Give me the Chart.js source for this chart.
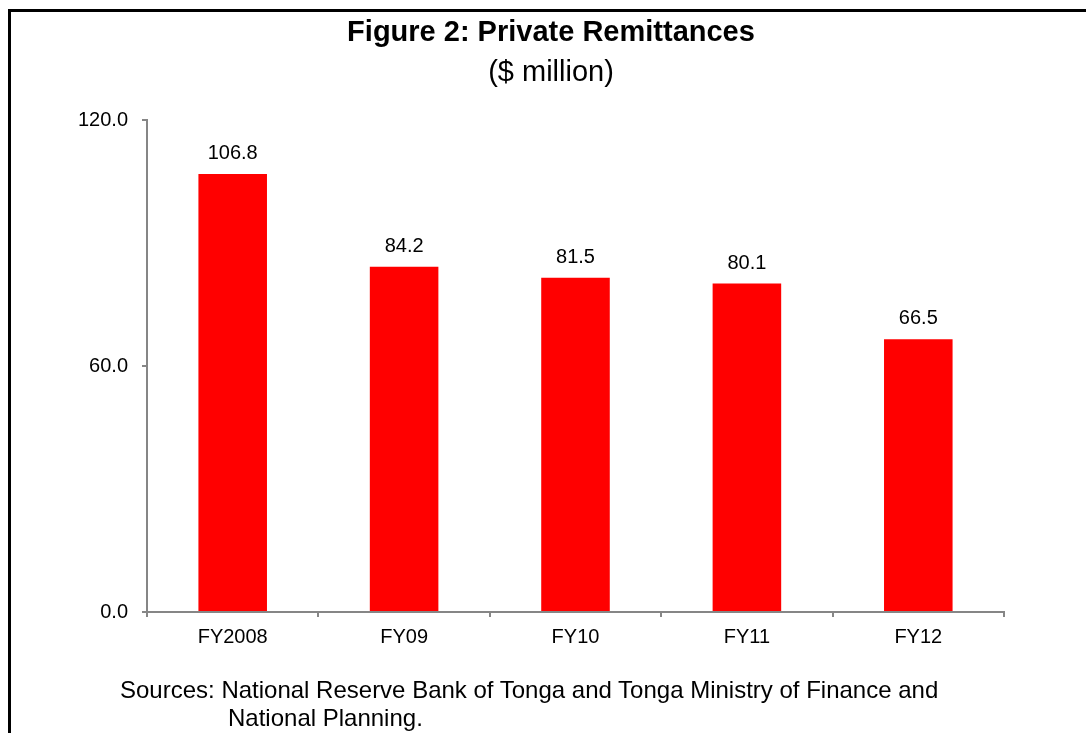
<!DOCTYPE html>
<html>
<head>
<meta charset="utf-8">
<script src="https://cdn.jsdelivr.net/npm/chart.js@4/dist/chart.umd.min.js"></script>
<style>
  body { margin: 0; background: #fff; }
  #wrap { position: relative; width: 1086px; height: 733px; overflow: hidden;
          font-family: "Liberation Sans", Arial, sans-serif; color: #000; }
  #frame { position: absolute; left: 8px; top: 9px; width: 1100px; height: 800px;
           border-left: 3px solid #000; border-top: 3px solid #000; }
  canvas { position: absolute; left: 0; top: 0; }
  .head { position: absolute; left: 0; width: 1102px; text-align: center; white-space: nowrap; }
  #title { top: 14px; font-size: 29px; font-weight: bold; line-height: 34px; }
  #subtitle { top: 54px; font-size: 29px; line-height: 34px; }
  #src { position: absolute; left: 120px; top: 676px; font-size: 24px; line-height: 28px; white-space: nowrap; }
  #src .l2 { padding-left: 108px; }
</style>
</head>
<body>
<div id="wrap">
  <div id="frame"></div>
  <canvas id="remit" width="1086" height="733"></canvas>
  <div class="head" id="title">Figure 2: Private Remittances</div>
  <div class="head" id="subtitle">($ million)</div>
  <div id="src">
    <div>Sources: National Reserve Bank of Tonga and Tonga Ministry of Finance and</div>
    <div class="l2">National Planning.</div>
  </div>
</div>
<script>
const years = ['FY2008', 'FY09', 'FY10', 'FY11', 'FY12'];
const remittances = [106.8, 84.2, 81.5, 80.1, 66.5];
const yTicks = [0, 60, 120];

const font = '"Liberation Sans", Arial, sans-serif';

// value labels above each bar
const barValues = {
    id: 'barValues',
    afterDatasetsDraw(chart) {
        const c = chart.ctx;
        c.save();
        c.font = '20px ' + font;
        c.fillStyle = '#000';
        c.textAlign = 'center';
        c.textBaseline = 'alphabetic';
        chart.getDatasetMeta(0).data.forEach((bar, i) => {
            c.fillText(remittances[i].toFixed(1), bar.x, bar.y - 15);
        });
        c.restore();
    }
};

const ctx = document.getElementById('remit');

new Chart(ctx, {
    type: 'bar',
    data: {
        labels: years,
        datasets: [{
            data: remittances,
            backgroundColor: '#ff0000',
            borderWidth: 0,
            barPercentage: 0.4,
            categoryPercentage: 1
        }]
    },
    options: {
        responsive: false,
        animation: false,
        layout: { padding: { left: 40, right: 82, top: 120, bottom: 71 } },
        plugins: {
            legend: { display: false },
            tooltip: { enabled: false }
        },
        scales: {
            x: {
                afterFit(axis) { axis.height = 50; },
                border: { color: '#868686', width: 2 },
                grid: { drawOnChartArea: false, drawTicks: true, tickLength: 5, color: '#868686', lineWidth: 2 },
                ticks: { color: '#000', font: { family: font, size: 20 }, padding: 8 }
            },
            y: {
                min: 0,
                max: 120,
                afterFit(axis) { axis.width = 107; },
                afterBuildTicks(axis) { axis.ticks = yTicks.map(v => ({ value: v })); },
                border: { color: '#868686', width: 2 },
                grid: { drawOnChartArea: false, drawTicks: true, tickLength: 5, color: '#868686', lineWidth: 2 },
                ticks: {
                    color: '#000',
                    font: { family: font, size: 20 },
                    padding: 14,
                    callback: v => v.toFixed(1)
                }
            }
        }
    },
    plugins: [barValues]
});
</script>
</body>
</html>
